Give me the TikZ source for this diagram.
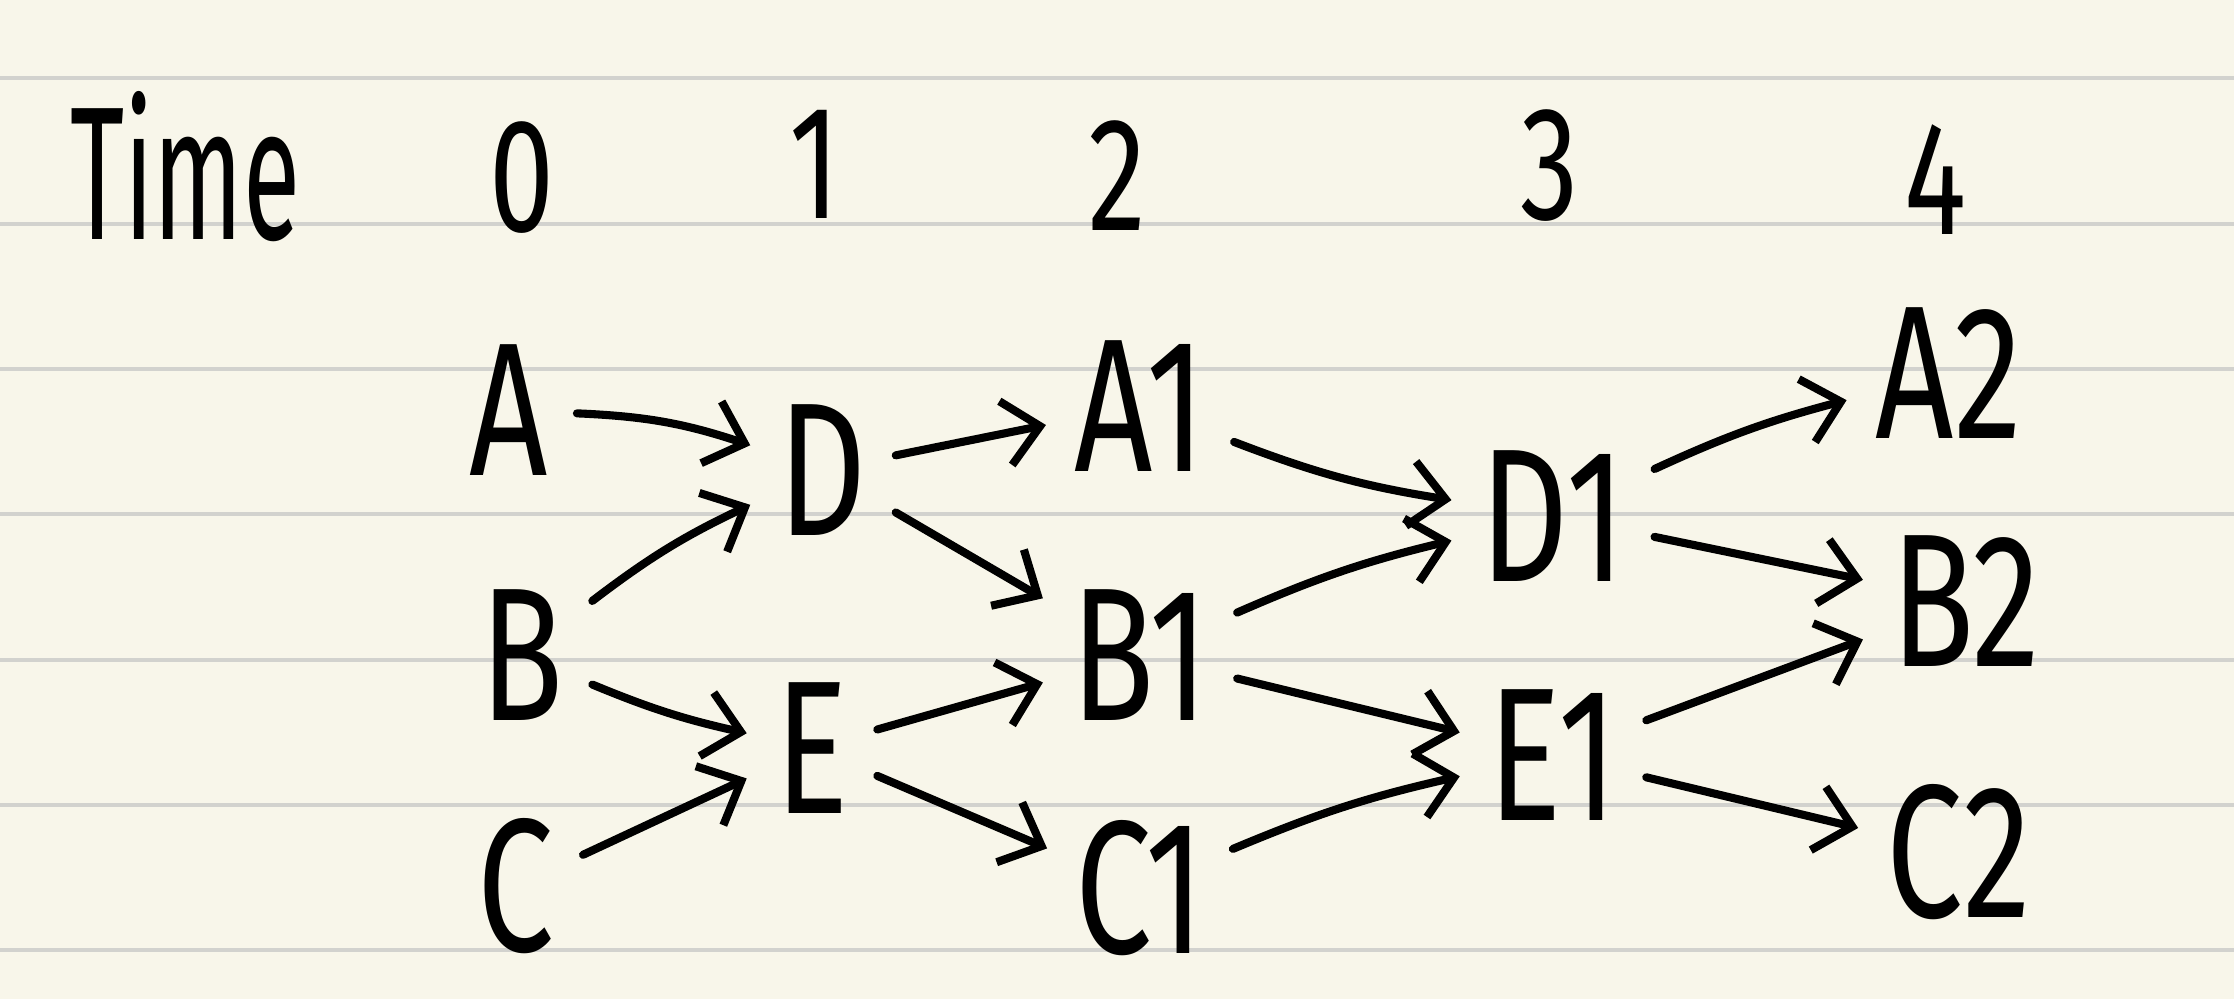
\documentclass[tikz,border=0pt]{standalone}
\usepackage{fontspec}
\newfontfamily\hand[FakeStretch=0.72]{Fira Sans}
\newfontfamily\handn[FakeStretch=0.55]{Fira Sans}
\usepackage{tikz}
\usetikzlibrary{arrows.meta}
\definecolor{paper}{RGB}{248,246,234}
\definecolor{rulegray}{RGB}{210,210,206}

\begin{document}
\begin{tikzpicture}[x=0.01cm,y=-0.01cm,
    lbl/.style={inner sep=0pt,font=\hand\fontsize{46}{50}\selectfont},
    st/.style={inner sep=0.28cm,font=\hand\fontsize{54}{58}\selectfont},
    ed/.style={line width=2.3pt,line cap=round,
      -{Straight Barb[length=3.5mm,width=6.5mm,line width=2.3pt]}}]
    \fill[paper] (0,0) rectangle (2234,999);
    \useasboundingbox (0,0) rectangle (2234,999);
    \foreach \r in {78,224,369,514,660,805,950}
      \draw[rulegray,line width=1.2pt] (0,\r) -- (2234,\r);
    \node[lbl,font=\handn\fontsize{54}{58}\selectfont] (time) at (185,167) {Time};
    \node[lbl] (t0) at (522,178) {0};
    \node[lbl] (t1) at (815,164) {1};
    \node[lbl] (t2) at (1117,176) {2};
    \node[lbl] (t3) at (1550,166) {3};
    \node[lbl] (t4) at (1935,180) {4};
    \node[st] (A) at (509,410) {A};
    \node[st] (B) at (522,655) {B};
    \node[st] (C) at (516,886) {C};
    \node[st] (D) at (823,470) {D};
    \node[st] (E) at (812,748) {E};
    \node[st] (A1) at (1140,406) {A1};
    \node[st] (B1) at (1140,655) {B1};
    \node[st] (C1) at (1140,888) {C1};
    \node[st] (D1) at (1553,516) {D1};
    \node[st] (E1) at (1553,755) {E1};
    \node[st] (A2) at (1949,373) {A2};
    \node[st] (B2) at (1966,601) {B2};
    \node[st] (C2) at (1959,852) {C2};
    \draw[ed] (A) to[bend left=8] (D);
    \draw[ed] (B) to[bend left=6] (D);
    \draw[ed] (B) to[bend right=5] (E);
    \draw[ed] (C) -- (E);
    \draw[ed] (D) -- (A1);
    \draw[ed] (D) -- (B1);
    \draw[ed] (E) -- (B1);
    \draw[ed] (E) -- (C1);
    \draw[ed] (A1) to[bend right=6] (D1);
    \draw[ed] (B1) to[bend left=5] (D1);
    \draw[ed] (B1) -- (E1);
    \draw[ed] (C1) to[bend left=5] (E1);
    \draw[ed] (D1) to[bend left=5] (A2);
    \draw[ed] (D1) -- (B2);
    \draw[ed] (E1) -- (B2);
    \draw[ed] (E1) -- (C2);
\end{tikzpicture}
\end{document}
